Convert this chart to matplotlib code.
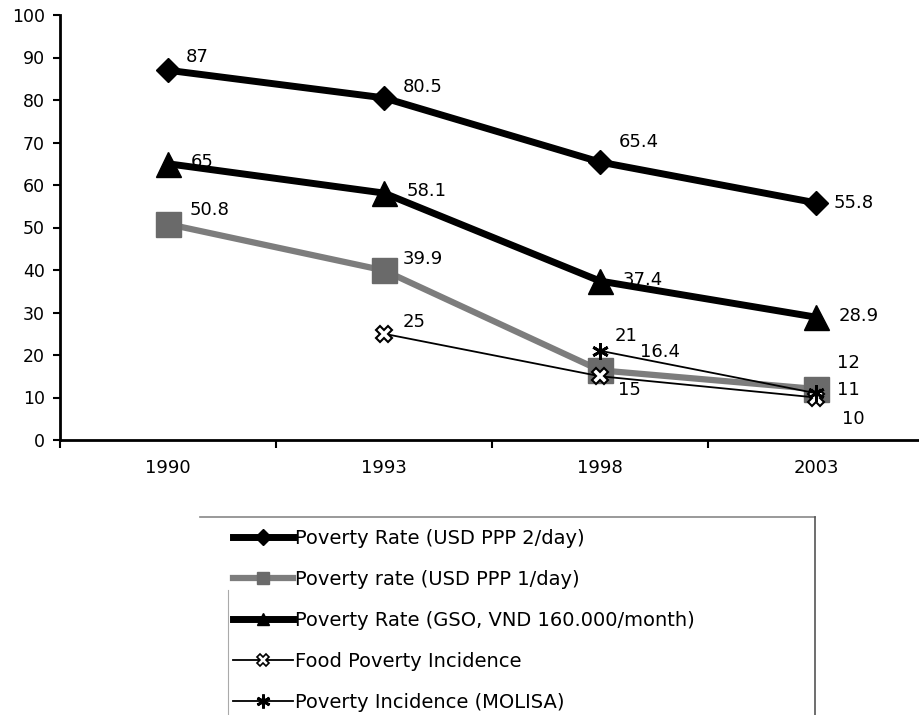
import numpy as np
import matplotlib.pyplot as plt
from matplotlib.lines import Line2D

years = ['1990', '1993', '1998', '2003']
usd2 = [87, 80.5, 65.4, 55.8]
usd1 = [50.8, 39.9, 16.4, 12]
gso = [65, 58.1, 37.4, 28.9]
food = [np.nan, 25, 15, 10]
molisa = [np.nan, np.nan, 21, 11]

names = ['Poverty Rate (USD PPP 2/day)', 'Poverty rate (USD PPP 1/day)',
         'Poverty Rate (GSO, VND 160.000/month)', 'Food Poverty Incidence',
         'Poverty Incidence (MOLISA)']

# label offsets in pixels (dx, dy) for each point
off_usd2 = [(18, 13), (19, 11), (19, 20), (18, 0)]
off_usd1 = [(22, 14), (19, 11), (40, 18), (21, 26)]
off_gso = [(23, 2), (23, 2), (23, 1), (23, 1)]
off_food = [None, (19, 12), (18, -14), (26, -22)]
off_mol = [None, None, (15, 15), (21, 3)]

plt.rcParams['font.family'] = 'DejaVu Sans'
fig = plt.figure(figsize=(9.2, 7.15), dpi=100)
ax = fig.add_axes([60/920, 1-440/715, 864/920, 425/715])

x = np.arange(len(years))
gray = '#7d7d7d'
ax.plot(x, usd2, color='black', lw=5, marker='D', ms=12, zorder=5)
ax.plot(x, usd1, color=gray, lw=4.5, marker='s', ms=18, mfc='#6a6a6a', mec='#6a6a6a', zorder=3)
ax.plot(x, gso, color='black', lw=5, marker='^', ms=18, zorder=4)
ax.plot(x, food, color='black', lw=1.3, marker='X', ms=11, mfc='white', mec='black', mew=1.5, zorder=6)
ax.plot(x, molisa, color='black', lw=1.3, marker=(6, 2, 0), ms=12, mew=2, zorder=6)

for vals, offs in [(usd2, off_usd2), (usd1, off_usd1), (gso, off_gso), (food, off_food), (molisa, off_mol)]:
    for xi, v, o in zip(x, vals, offs):
        if o is None or np.isnan(v):
            continue
        ax.annotate(f'{v:g}', (xi, v), xytext=o, textcoords='offset pixels',
                    ha='left', va='center', fontsize=13, zorder=7)

ax.set_xlim(-0.5, 3.5)
ax.set_ylim(0, 100)
ax.set_yticks(np.arange(0, 101, 10))
ax.set_xticks(np.arange(-0.5, 3.6, 1))
ax.set_xticklabels([])
ax.set_xticks(x, minor=True)
ax.set_xticklabels(years, minor=True)
ax.tick_params(axis='x', which='major', direction='out', length=6, width=1.5)
ax.tick_params(axis='x', which='minor', length=0, pad=14, labelsize=13)
ax.tick_params(axis='y', direction='out', length=5, width=1.5, pad=6, labelsize=12.5)
for s in ['top', 'right']:
    ax.spines[s].set_visible(False)
for s in ['left', 'bottom']:
    ax.spines[s].set_linewidth(2)
ax.patch.set_alpha(0)

handles = [
    Line2D([], [], color='black', lw=5, marker='D', ms=8),
    Line2D([], [], color=gray, lw=4.5, marker='s', ms=9, mfc='#6a6a6a', mec='#6a6a6a'),
    Line2D([], [], color='black', lw=5, marker='^', ms=9),
    Line2D([], [], color='black', lw=1.3, marker='X', ms=9, mfc='white', mec='black', mew=1.2),
    Line2D([], [], color='black', lw=1.3, marker=(6, 2, 0), ms=10, mew=2),
]
fig.legend(handles, names, loc='upper left', bbox_to_anchor=(225/920, 1-521/715),
           frameon=False, fontsize=14, handlelength=3.1, handletextpad=0.12,
           labelspacing=1.13, borderaxespad=0)

# legend box outline
fig.add_artist(Line2D([200/920, 815/920], [1-517/715, 1-517/715], color='#888888', lw=1.2,
                      transform=fig.transFigure))
fig.add_artist(Line2D([815/920, 815/920], [1-517/715, 0], color='#555555', lw=1.2,
                      transform=fig.transFigure))
fig.add_artist(Line2D([228/920, 228/920], [1-590/715, 0], color='#aaaaaa', lw=0.8,
                      transform=fig.transFigure))

fig.savefig('out.png', dpi=100)
